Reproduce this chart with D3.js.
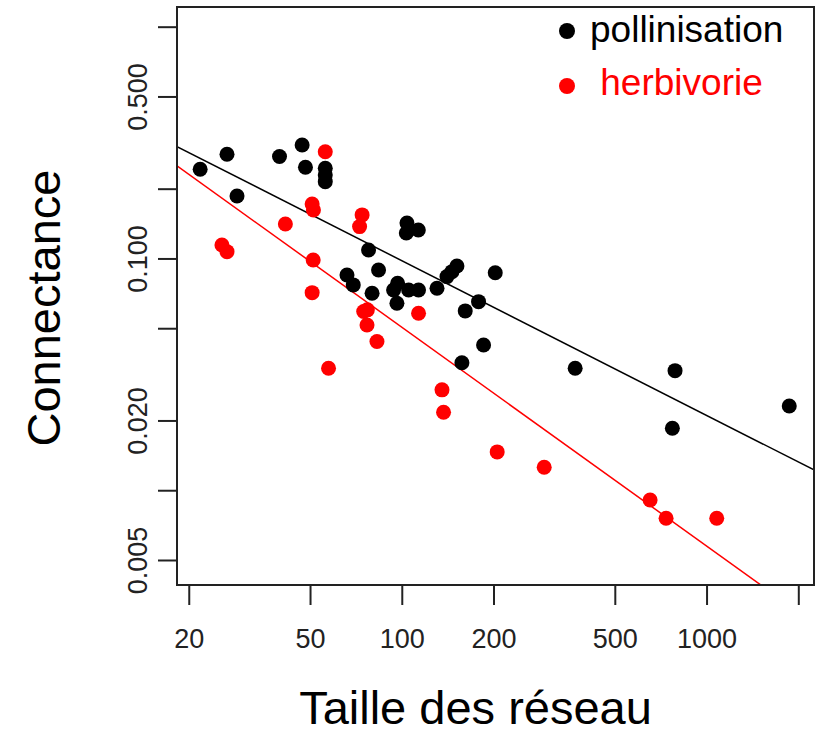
<!DOCTYPE html>
<html>
<head>
<meta charset="utf-8">
<script src="https://cdn.jsdelivr.net/npm/d3@7"></script>
<style>
  body { margin: 0; background: #fff; }
  svg { display: block; font-family: "Liberation Sans", Arial, sans-serif; }
  .tick line { stroke: #222; stroke-width: 2; }
  .tick text { fill: #222; }
</style>
</head>
<body>
<svg id="chart" width="819" height="734"></svg>
<script>
// Network size (x) and connectance (y)
const pollX = [21.8, 26.7, 28.8, 39.7, 47.1, 48.3, 56.1, 56.1, 56.1, 77.8, 104.0, 113.3, 103.5,
  83.9, 66.1, 69.3, 79.9, 96.9, 94.0, 105.3, 113.5, 96.4, 130.5, 140.7, 146.1, 151.7,
  202.6, 178.6, 161.5, 185.5, 157.5, 370.6, 788.2, 1868, 772.4];
const pollY = [0.2425, 0.2815, 0.186, 0.2752, 0.3088, 0.2474, 0.245, 0.2292, 0.2145, 0.1088, 0.1422, 0.1327, 0.1288,
  0.0892, 0.0849, 0.0769, 0.0708, 0.0782, 0.0731, 0.0731, 0.0731, 0.0641, 0.0744, 0.0835, 0.0877, 0.0928,
  0.0868, 0.0651, 0.0594, 0.0423, 0.0355, 0.0336, 0.0328, 0.0231, 0.0185];

const herbX = [56.1, 50.8, 51.3, 74.1, 72.7, 41.5, 25.7, 26.7, 51.2, 50.8, 75.0, 77.1, 76.9,
  82.9, 113.5, 57.5, 135.5, 137.1, 205.6, 293.3, 652.8, 736.6, 1080];
const herbY = [0.2888, 0.1718, 0.1619, 0.1541, 0.1372, 0.1409, 0.1143, 0.1070, 0.0985, 0.0712, 0.0590, 0.0600, 0.0516,
  0.0438, 0.0580, 0.0336, 0.0271, 0.0217, 0.01463, 0.01257, 0.00908, 0.00757, 0.00757];

// log10(y) = a + b * log10(x)
const fitPoll = [0.3254, -0.6675];
const fitHerb = [0.5913, -0.944];

const xTicks = [20, 50, 100, 200, 500, 1000, 2000];
const xLabels = ["20", "50", "100", "200", "500", "1000", ""];
const yTicks = [1, 0.5, 0.2, 0.1, 0.05, 0.02, 0.01, 0.005];
const yLabels = ["", "0.500", "", "0.100", "", "0.020", "", "0.005"];

const seriesNames = ["pollinisation", " herbivorie"];
const seriesColors = ["#000000", "#ff0000"];

const box = { left: 177, right: 814, top: 7, bottom: 585 };
const svg = d3.select("#chart");

const x = d3.scaleLog().domain([18.3, 2252]).range([box.left, box.right]);
const y = d3.scaleLog().domain([1.216, 0.0039]).range([box.top, box.bottom]);

svg.append("defs").append("clipPath").attr("id", "plot-clip")
  .append("rect")
  .attr("x", box.left).attr("y", box.top)
  .attr("width", box.right - box.left).attr("height", box.bottom - box.top);

// Axes
const xAxis = svg.append("g")
  .attr("transform", `translate(0,${box.bottom})`)
  .call(d3.axisBottom(x).tickValues(xTicks).tickSize(20).tickPadding(24)
    .tickFormat((d, i) => xLabels[i]));
xAxis.select(".domain").remove();
xAxis.selectAll("text").attr("font-size", 27).attr("font-family", "Liberation Sans, Arial, sans-serif");

const yAxis = svg.append("g")
  .attr("transform", `translate(${box.left},0)`)
  .call(d3.axisLeft(y).tickValues(yTicks).tickSize(19)
    .tickFormat((d, i) => yLabels[i]));
yAxis.select(".domain").remove();
yAxis.selectAll("text")
  .attr("font-size", 27)
  .attr("font-family", "Liberation Sans, Arial, sans-serif")
  .attr("transform", "rotate(-90)")
  .attr("x", 0).attr("y", -30).attr("dy", 0)
  .style("text-anchor", "middle");

// Fitted lines
const plot = svg.append("g").attr("clip-path", "url(#plot-clip)");
[fitPoll, fitHerb].forEach((f, i) => {
  const xs = x.domain();
  const pts = xs.map(v => [v, Math.pow(10, f[0] + f[1] * Math.log10(v))]);
  plot.append("line")
    .attr("x1", x(pts[0][0])).attr("y1", y(pts[0][1]))
    .attr("x2", x(pts[1][0])).attr("y2", y(pts[1][1]))
    .attr("stroke", seriesColors[i])
    .attr("stroke-width", 1.5);
});

// Points
const series = [
  d3.zip(pollX, pollY),
  d3.zip(herbX, herbY)
];
series.forEach((s, i) => {
  plot.selectAll(null)
    .data(s)
    .enter().append("circle")
    .attr("cx", d => x(d[0]))
    .attr("cy", d => y(d[1]))
    .attr("r", 7.5)
    .attr("fill", seriesColors[i]);
});

// Plot box
svg.append("rect")
  .attr("x", box.left).attr("y", box.top)
  .attr("width", box.right - box.left).attr("height", box.bottom - box.top)
  .attr("fill", "none").attr("stroke", "#222").attr("stroke-width", 2);

// Legend
const legend = svg.append("g");
seriesNames.forEach((name, i) => {
  legend.append("circle")
    .attr("cx", 567).attr("cy", 31 + i * 55)
    .attr("r", 8).attr("fill", seriesColors[i]);
  legend.append("text")
    .attr("x", 590).attr("y", 42 + i * 53)
    .attr("font-size", 37)
    .attr("fill", seriesColors[i])
    .attr("xml:space", "preserve")
    .style("white-space", "pre")
    .text(name);
});

// Axis titles
svg.append("text")
  .attr("x", (box.left + box.right) / 2 - 20).attr("y", 724)
  .attr("text-anchor", "middle")
  .attr("font-size", 47)
  .text("Taille des réseau");

svg.append("text")
  .attr("transform", `translate(60,308) rotate(-90)`)
  .attr("text-anchor", "middle")
  .attr("font-size", 47)
  .text("Connectance");
</script>
</body>
</html>
